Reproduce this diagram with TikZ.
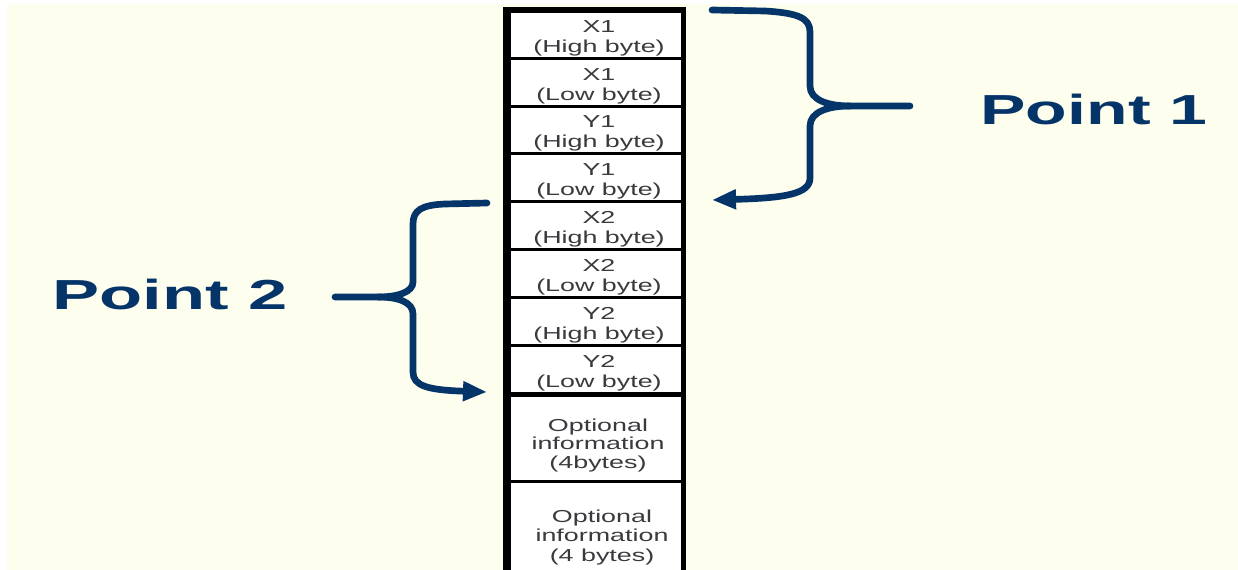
\documentclass[tikz,border=0pt]{standalone}
\usepackage{fontspec}
\setmainfont{Liberation Sans}
\usepackage{graphicx}
\usetikzlibrary{arrows.meta}
\definecolor{cream}{RGB}{253,254,238}
\definecolor{navy}{RGB}{4,52,104}
\definecolor{celltext}{RGB}{58,58,62}
\newcommand{\celltxt}[2][15pt]{\scalebox{1.55}[1]{\fontsize{13pt}{#1}\selectfont\begin{tabular}{@{}c@{}}#2\end{tabular}}}
\newcommand{\ptxt}[2][1.6]{\scalebox{#1}[1]{\fontsize{31.5pt}{36pt}\selectfont\bfseries #2}}
\tikzset{
  cellbox/.style={fill=white, inner sep=0pt, minimum width=127.5pt},
  celllabel/.style={text=celltext, inner sep=0pt},
  bracepath/.style={draw=navy, line width=5pt, line cap=round},
  bracearrow/.style={bracepath, -{Triangle[length=18pt,width=14pt]}},
  pointlabel/.style={text=navy, inner sep=0pt, anchor=base}
}
\begin{document}
\begin{tikzpicture}[x=0.75pt,y=-0.75pt]
\useasboundingbox (0,0) rectangle (1238,570);
\fill[white] (0,0) rectangle (1238,570);
\fill[cream] (7,4) rectangle (1238,570);
% column frame
\fill[black] (503,7) rectangle (686,575);
% cells
\node[cellbox, minimum height=33pt] (c1) at (596,35) {};
\node[cellbox, minimum height=33.75pt] (c2) at (596,82.5) {};
\node[cellbox, minimum height=33pt] (c3) at (596,130) {};
\node[cellbox, minimum height=33.75pt] (c4) at (596,177.5) {};
\node[cellbox, minimum height=33.75pt] (c5) at (596,225.5) {};
\node[cellbox, minimum height=33.75pt] (c6) at (596,273.5) {};
\node[cellbox, minimum height=33.75pt] (c7) at (596,321.5) {};
\node[cellbox, minimum height=33.75pt] (c8) at (596,369.5) {};
\node[cellbox, minimum height=62.25pt] (c9) at (596,438.5) {};
\node[cellbox, minimum height=67.5pt] (c10) at (596,528) {};
% cell texts
\node[celllabel] (t1) at (599,39) {\celltxt{X1\\(High byte)}};
\node[celllabel] (t2) at (599,86.5) {\celltxt{X1\\(Low byte)}};
\node[celllabel] (t3) at (599,134) {\celltxt{Y1\\(High byte)}};
\node[celllabel] (t4) at (599,181.5) {\celltxt{Y1\\(Low byte)}};
\node[celllabel] (t5) at (599,229.5) {\celltxt{X2\\(High byte)}};
\node[celllabel] (t6) at (599,277.5) {\celltxt{X2\\(Low byte)}};
\node[celllabel] (t7) at (599,325.5) {\celltxt{Y2\\(High byte)}};
\node[celllabel] (t8) at (599,373.5) {\celltxt{Y2\\(Low byte)}};
\node[celllabel] (t9) at (598,446) {\celltxt[14pt]{Optional\\information\\(4bytes)}};
\node[celllabel] (t10) at (602,538) {\celltxt[14.5pt]{Optional\\information\\(4 bytes)}};
% labels
\node[pointlabel] (p1) at (1094,125) {\ptxt[1.62]{Point 1}};
\node[pointlabel] (p2) at (170,310) {\ptxt[1.68]{Point 2}};
% brace 1
\coordinate (b1s) at (712,10);
\coordinate (b1c) at (850,106);
\coordinate (b1t) at (910,106);
\coordinate (b1e) at (712,200);
\draw[bracepath] (b1s) -- (765,11) .. controls (798,13) and (810,18) .. (810,32) -- (810,86) .. controls (810,100) and (828,106) .. (b1c) -- (b1t);
\draw[bracearrow] (b1c) .. controls (828,106) and (810,112) .. (810,126) -- (810,178) .. controls (810,194) and (785,198) .. (b1e);
% brace 2
\coordinate (b2s) at (487,203);
\coordinate (b2c) at (378,297);
\coordinate (b2t) at (335,297);
\coordinate (b2e) at (487,392);
\draw[bracepath] (b2s) -- (445,204) .. controls (422,205) and (413,210) .. (413,224) -- (413,282) .. controls (413,292) and (398,297) .. (b2c) -- (b2t);
\draw[bracearrow] (b2c) .. controls (398,297) and (413,302) .. (413,314) -- (413,372) .. controls (413,386) and (428,390) .. (b2e);
\end{tikzpicture}
\end{document}
